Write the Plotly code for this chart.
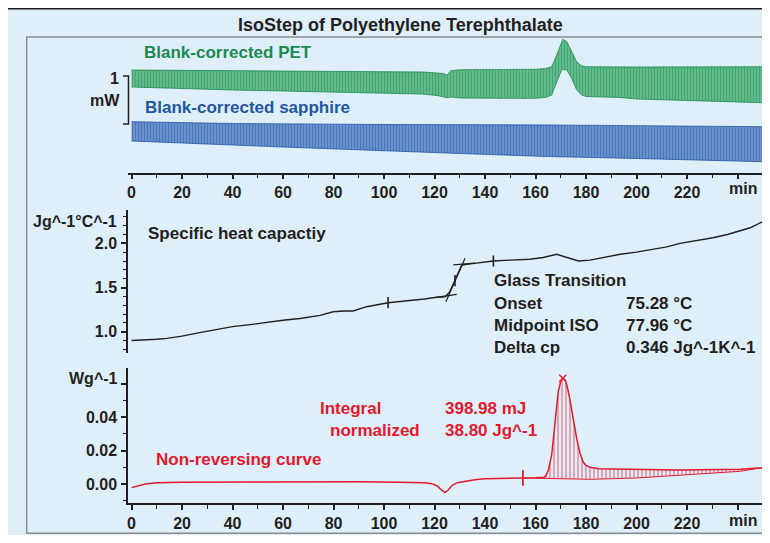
import plotly.graph_objects as go

# ---------------- data ----------------
# Top panel: blank-corrected heat-flow signals (envelopes of the oscillation), mW (relative)
pet_top_t = [0, 20, 40, 60, 80, 100, 115, 121, 123.5, 125, 126.5, 130, 140, 150, 160, 164, 166.4, 168.4, 170.4, 170.8, 172.4, 174.3, 176.3, 178.3, 180, 200, 220, 250]
pet_top_v = [2.135, 2.129, 2.121, 2.115, 2.115, 2.108, 2.094, 2.073, 2.063, 2.031, 2.121, 2.140, 2.142, 2.146, 2.150, 2.167, 2.204, 2.448, 2.760, 2.775, 2.725, 2.517, 2.308, 2.219, 2.204, 2.198, 2.198, 2.204]
pet_bot_t = [0, 20, 40, 60, 80, 100, 115, 121, 123.5, 124.8, 126.5, 130, 140, 150, 160, 164, 166.4, 168.4, 170.4, 172.4, 174.3, 176.3, 178.3, 180, 193.5, 200, 220, 235, 250]
pet_bot_v = [1.781, 1.754, 1.719, 1.698, 1.677, 1.656, 1.635, 1.604, 1.577, 1.558, 1.573, 1.552, 1.546, 1.546, 1.546, 1.563, 1.615, 1.892, 2.150, 2.135, 1.963, 1.719, 1.615, 1.583, 1.563, 1.531, 1.510, 1.479, 1.454]
sap_top_t = [0, 40, 100, 165, 250]
sap_top_v = [1.058, 1.021, 1.000, 0.990, 0.954]
sap_bot_t = [0, 20, 40, 60, 80, 100, 130, 165, 200, 250]
sap_bot_v = [0.656, 0.615, 0.573, 0.531, 0.490, 0.448, 0.396, 0.333, 0.292, 0.225]

# Middle panel: specific heat capacity, J/(g °C)
cp_t = [0, 5, 10, 14, 20, 27, 33, 40, 47, 53.5, 60, 66.7, 74.7, 79.9, 84, 87.8, 93.1, 101.6, 110, 116, 120.9, 124.2, 126, 128.1, 130, 130.8, 135, 143.3, 150, 157.8, 163, 168.4, 172.5, 177, 181.6, 187, 193.5, 200, 206.5, 212, 217.2, 224, 230.3, 236, 240, 245, 250]
cp_v = [0.900, 0.905, 0.915, 0.925, 0.950, 0.990, 1.020, 1.057, 1.080, 1.106, 1.130, 1.150, 1.185, 1.226, 1.235, 1.234, 1.283, 1.328, 1.350, 1.370, 1.389, 1.396, 1.450, 1.577, 1.700, 1.755, 1.770, 1.800, 1.810, 1.820, 1.840, 1.876, 1.840, 1.800, 1.810, 1.840, 1.876, 1.900, 1.930, 1.960, 2.000, 2.030, 2.063, 2.100, 2.130, 2.176, 2.245]
cp_mark_t = [101.6, 128.1, 143.3]
cp_mark_v = [1.328, 1.577, 1.800]
tan_low_t = [120.6, 128.8]
tan_low_v = [1.389, 1.423]
tan_up_t = [127.4, 136.0]
tan_up_v = [1.755, 1.775]
tan_mid_t = [124.5, 132.1]
tan_mid_v = [1.339, 1.830]

# Bottom panel: non-reversing curve, W/g
nr_t = [0, 2, 4, 6, 8, 10, 20, 30, 40, 50, 60, 70, 80, 90, 100, 110, 116, 119, 121, 123, 124.2, 125.5, 127, 129, 132, 136, 140, 145, 150, 155, 160, 163.5, 164.3, 165.1, 166.4, 167.7, 169.0, 170.0, 170.8, 171.6, 172.4, 173.4, 174.3, 175.3, 176.3, 177.6, 178.9, 180.0, 181.6, 185, 190, 200, 210, 217, 230, 241, 250]
nr_v = [-0.0022, -0.0016, -0.0006, 0.0002, 0.0006, 0.0008, 0.0010, 0.0011, 0.0012, 0.0014, 0.0015, 0.0014, 0.0015, 0.0014, 0.0012, 0.0011, 0.0008, 0.0002, -0.0012, -0.0038, -0.0052, -0.0035, -0.0008, 0.0008, 0.0016, 0.0026, 0.0031, 0.0034, 0.0035, 0.0036, 0.0037, 0.0040, 0.0055, 0.0084, 0.0174, 0.0384, 0.0554, 0.0618, 0.0634, 0.0625, 0.0594, 0.0525, 0.0444, 0.0360, 0.0274, 0.0186, 0.0130, 0.0112, 0.0100, 0.0092, 0.0090, 0.0087, 0.0085, 0.0084, 0.0086, 0.0089, 0.0098]
base_t = [155, 170, 182, 200, 217, 230, 241, 250]
base_v = [0.0036, 0.0031, 0.0028, 0.0036, 0.0054, 0.0064, 0.0076, 0.0098]
limit_t = [155, 250]
limit_v = [0.0036, 0.0098]
peak_t = [170.8]
peak_v = [0.0634]

x_ticks = [0, 20, 40, 60, 80, 100, 120, 140, 160, 180, 200, 220, 240]
x_ticktext = ["0", "20", "40", "60", "80", "100", "120", "140", "160", "180", "200", "220", ""]
cp_ticks = [1.0, 1.5, 2.0]
cp_ticktext = ["1.0", "1.5", "2.0"]
nr_ticks = [0.0, 0.02, 0.04, 0.06]
nr_ticktext = ["0.00", "0.02", "0.04", ""]

# ---------------- style ----------------
OFF = 8                      # page body margin of the written html
W, H = 770 - 2 * OFF, 543 - 2 * OFF

def PX(x):
    return (x - OFF) / W
def PY(y):
    return 1 - (y - OFF) / H

INK = "#231f20"
GREEN_D, GREEN_L = "#1a8a4e", "#6cc195"
BLUE_D, BLUE_L = "#2356a3", "#7299d0"
RED = "#e3192e"
BG = "#dfeffa"
FONT = "Liberation Sans"

fig = go.Figure()

# top panel bands
fig.add_trace(go.Scatter(
    x=pet_top_t + pet_bot_t[::-1], y=pet_top_v + pet_bot_v[::-1],
    fill="toself", mode="lines", line=dict(color=GREEN_D, width=0.8),
    fillcolor=GREEN_L,
    fillpattern=dict(shape="|", fgcolor=GREEN_D, bgcolor=GREEN_L, size=3, solidity=0.5),
    xaxis="x", yaxis="y", hoverinfo="skip", showlegend=False))
fig.add_trace(go.Scatter(
    x=sap_top_t + sap_bot_t[::-1], y=sap_top_v + sap_bot_v[::-1],
    fill="toself", mode="lines", line=dict(color=BLUE_D, width=0.8),
    fillcolor=BLUE_L,
    fillpattern=dict(shape="|", fgcolor=BLUE_D, bgcolor=BLUE_L, size=3, solidity=0.5),
    xaxis="x", yaxis="y", hoverinfo="skip", showlegend=False))

# middle panel
fig.add_trace(go.Scatter(x=cp_t, y=cp_v, mode="lines", line=dict(color=INK, width=1.4),
                         xaxis="x2", yaxis="y2", showlegend=False))
for tt, vv in [(tan_low_t, tan_low_v), (tan_up_t, tan_up_v), (tan_mid_t, tan_mid_v)]:
    fig.add_trace(go.Scatter(x=tt, y=vv, mode="lines", line=dict(color=INK, width=1.2),
                             xaxis="x2", yaxis="y2", showlegend=False))
fig.add_trace(go.Scatter(x=cp_mark_t, y=cp_mark_v, mode="markers",
                         marker=dict(symbol="line-ns", size=8, line=dict(color=INK, width=1.6)),
                         xaxis="x2", yaxis="y2", showlegend=False))

# bottom panel: hatched integral area
seg_t = [t for t in nr_t if t >= 155]
seg_v = [v for t, v in zip(nr_t, nr_v) if t >= 155]
fig.add_trace(go.Scatter(
    x=seg_t + base_t[::-1], y=seg_v + base_v[::-1], fill="toself", mode="none",
    fillcolor="rgba(0,0,0,0)",
    fillpattern=dict(shape="|", fgcolor=RED, bgcolor="rgba(0,0,0,0)", size=4, solidity=0.35),
    xaxis="x3", yaxis="y3", hoverinfo="skip", showlegend=False))
fig.add_trace(go.Scatter(x=base_t, y=base_v, mode="lines", line=dict(color=RED, width=1),
                         xaxis="x3", yaxis="y3", showlegend=False))
fig.add_trace(go.Scatter(x=nr_t, y=nr_v, mode="lines", line=dict(color=RED, width=1.5),
                         xaxis="x3", yaxis="y3", showlegend=False))
fig.add_trace(go.Scatter(x=limit_t, y=limit_v, mode="markers",
                         marker=dict(symbol="line-ns", size=11, line=dict(color=RED, width=1.8)),
                         xaxis="x3", yaxis="y3", showlegend=False, cliponaxis=False))
fig.add_trace(go.Scatter(x=peak_t, y=peak_v, mode="markers",
                         marker=dict(symbol="x-thin", size=7, line=dict(color=RED, width=1.4)),
                         xaxis="x3", yaxis="y3", showlegend=False))

xdom = [PX(128), 1.0]
xr = [-1.4, 249.7]
tickfont = dict(family=FONT, size=16, color=INK, weight="bold")

def xaxis_style():
    return dict(domain=xdom, range=xr, showline=True, linecolor=INK, linewidth=1.5,
                ticks="outside", ticklen=5, tickwidth=1.5, tickcolor=INK,
                tickvals=x_ticks, ticktext=x_ticktext, showticklabels=True,
                tickfont=tickfont, showgrid=False, zeroline=False,
                minor=dict(dtick=10, tick0=0, ticks="outside", ticklen=4, tickwidth=1.2, tickcolor=INK))

fig.update_layout(
    width=W, height=H, margin=dict(l=0, r=0, t=0, b=0),
    paper_bgcolor="white", plot_bgcolor="rgba(0,0,0,0)",
    showlegend=False,
    xaxis=dict(**xaxis_style(), anchor="y"),
    xaxis2=dict(domain=xdom, range=xr, visible=False, anchor="y2"),
    xaxis3=dict(**xaxis_style(), anchor="y3"),
    yaxis=dict(domain=[PY(172.5), PY(37)], range=[0, 2.823], visible=False, anchor="x"),
    yaxis2=dict(domain=[PY(353), PY(210)], range=[0.759, 2.377], anchor="x2",
                showline=True, linecolor=INK, linewidth=1.5, ticks="outside", ticklen=5,
                tickwidth=1.5, tickcolor=INK, tickvals=cp_ticks, ticktext=cp_ticktext,
                tickfont=tickfont, showgrid=False, zeroline=False, ticklabelstandoff=1,
                minor=dict(dtick=0.1, tick0=0, ticks="outside", ticklen=3, tickwidth=1.2, tickcolor=INK)),
    yaxis3=dict(domain=[PY(503.3), PY(368)], range=[-0.0116, 0.0696], anchor="x3",
                showline=True, linecolor=INK, linewidth=1.5, ticks="outside", ticklen=5,
                tickwidth=1.5, tickcolor=INK, tickvals=nr_ticks, ticktext=nr_ticktext,
                tickfont=tickfont, showgrid=False, zeroline=False, ticklabelstandoff=1,
                minor=dict(dtick=0.01, tick0=0, ticks="outside", ticklen=3, tickwidth=1.2, tickcolor=INK)),
)

shapes = [
    dict(type="rect", xref="paper", yref="paper", x0=-0.02, x1=1.02, y0=-0.02, y1=PY(9),
         fillcolor=BG, line=dict(width=0), layer="below"),
    dict(type="line", xref="paper", yref="paper", x0=-0.02, x1=1.02, y0=PY(8.8), y1=PY(8.8),
         line=dict(color="#1a1a1a", width=1.6), layer="below"),
    dict(type="rect", xref="paper", yref="paper", x0=PX(26.7), x1=PX(790), y0=PY(533.3), y1=PY(37),
         line=dict(color="#8c8c8c", width=1.5), layer="below"),
    dict(type="path", xref="paper", yref="y",
         path=f"M {PX(123)},2.01 L {PX(128.5)},2.01 L {PX(128.5)},1.01 L {PX(123)},1.01",
         line=dict(color=INK, width=1.5)),
]
fig.update_layout(shapes=shapes)

def ann(text, x, y, color=INK, size=17, xanchor="left", bold=True):
    return dict(text=text, x=PX(x), y=PY(y), xref="paper", yref="paper", showarrow=False,
                xanchor=xanchor, yanchor="middle",
                font=dict(family=FONT, size=size, color=color, weight="bold" if bold else "normal"))

annotations = [
    ann("IsoStep of Polyethylene Terephthalate", 400, 25, size=18, xanchor="center"),
    ann("Blank-corrected PET", 142, 52, color=GREEN_D),
    ann("Blank-corrected sapphire", 143, 108, color=BLUE_D),
    ann("1", 121, 78, size=16, xanchor="right"),
    ann("mW", 122, 100, size=16, xanchor="right"),
    ann("min", 759, 188, size=16, xanchor="right"),
    ann("Jg^-1°C^-1", 119, 221.7, size=16, xanchor="right"),
    ann("Specific heat capactiy", 146, 233),
    ann("Glass Transition", 492, 280.7),
    ann("Onset", 492, 303.3),
    ann("Midpoint ISO", 492, 325.3),
    ann("Delta cp", 492, 347.3),
    ann("75.28 °C", 624, 303.3),
    ann("77.96 °C", 624, 325.3),
    ann("0.346 Jg^-1K^-1", 624, 347.3),
    ann("Wg^-1", 120, 378.3, size=16, xanchor="right"),
    ann("Integral", 318, 408.3, color=RED),
    ann("normalized", 328, 430.7, color=RED),
    ann("398.98 mJ", 443, 408.3, color=RED),
    ann("38.80 Jg^-1", 443, 430.7, color=RED),
    ann("Non-reversing curve", 154, 459, color=RED),
    ann("min", 759, 520, size=16, xanchor="right"),
]
fig.update_layout(annotations=annotations)

fig.write_html("out.html")
